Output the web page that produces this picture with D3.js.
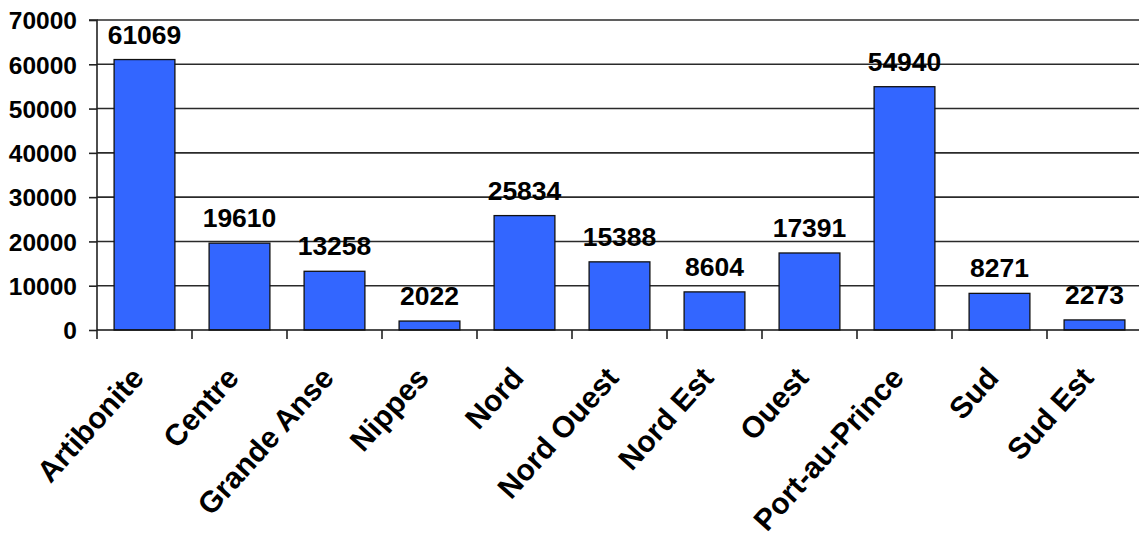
<!DOCTYPE html>
<html>
<head>
<meta charset="utf-8">
<script src="https://cdn.jsdelivr.net/npm/d3@7"></script>
<style>
  html, body { margin: 0; padding: 0; background: #fff; }
  svg { display: block; }
  text { font-family: "Liberation Sans", Arial, sans-serif; font-weight: bold; fill: #000; }
</style>
</head>
<body>
<svg id="chart" width="1139" height="540"></svg>
<script>
const categories = ["Artibonite", "Centre", "Grande Anse", "Nippes", "Nord", "Nord Ouest", "Nord Est", "Ouest", "Port-au-Prince", "Sud", "Sud Est"];
const values = [61069, 19610, 13258, 2022, 25834, 15388, 8604, 17391, 54940, 8271, 2273];
const yTicks = [0, 10000, 20000, 30000, 40000, 50000, 60000, 70000];

const svg = d3.select("#chart");
const plotLeft = 97, plotRight = 1142, plotTop = 20, plotBottom = 330;

const x = d3.scaleBand().domain(categories).range([plotLeft, plotRight]).paddingInner(0.36).paddingOuter(0.18);
const y = d3.scaleLinear().domain([0, 70000]).range([plotBottom, plotTop]);

// gridlines
svg.append("g").selectAll("line").data(yTicks.filter(d => d > 0)).join("line")
  .attr("x1", plotLeft).attr("x2", 1139)
  .attr("y1", d => y(d)).attr("y2", d => y(d))
  .attr("stroke", "#2a2a2a").attr("stroke-width", 1.6);

// bars
svg.append("g").selectAll("rect").data(values).join("rect")
  .attr("x", (d, i) => x(categories[i]))
  .attr("width", x.bandwidth())
  .attr("y", d => y(d))
  .attr("height", d => y(0) - y(d))
  .attr("fill", "#3366FF")
  .attr("stroke", "#111").attr("stroke-width", 1.3);

// y axis
const yAxis = d3.axisLeft(y).tickValues(yTicks).tickSize(8).tickPadding(12).tickFormat(d3.format("d"));
const gy = svg.append("g").attr("transform", `translate(${plotLeft},0)`).call(yAxis);
gy.select(".domain").attr("stroke", "#222").attr("stroke-width", 1.6).attr("d", `M-8,${plotTop}H0V${plotBottom}`);
gy.selectAll(".tick line").attr("stroke", "#222").attr("stroke-width", 1.6);
gy.selectAll(".tick text").style("font-size", "24.5px").style("font-family", "'Liberation Sans', Arial, sans-serif").style("font-weight", "bold").attr("fill", "#000").attr("dy", "0.36em");

// x axis line
svg.append("line").attr("x1", plotLeft).attr("x2", 1139).attr("y1", plotBottom).attr("y2", plotBottom)
  .attr("stroke", "#111").attr("stroke-width", 1.7);
// x tick marks at category boundaries
const bounds = d3.range(categories.length + 1).map(i => plotLeft + i * x.step());
svg.append("g").selectAll("line").data(bounds).join("line")
  .attr("x1", d => d).attr("x2", d => d)
  .attr("y1", plotBottom).attr("y2", plotBottom + 9)
  .attr("stroke", "#222").attr("stroke-width", 1.6);

// value labels
svg.append("g").selectAll("text").data(values).join("text")
  .attr("x", (d, i) => x(categories[i]) + x.bandwidth() / 2)
  .attr("y", d => y(d) - 16)
  .attr("text-anchor", "middle")
  .style("font-size", "26.5px")
  .text(d => d);

// category labels
svg.append("g").selectAll("text").data(categories).join("text")
  .attr("transform", d => `translate(${x(d) + x.bandwidth() / 2 - 7},372) rotate(-48)`)
  .attr("text-anchor", "end")
  .attr("dy", "0.35em")
  .style("font-size", "30px")
  .text(d => d);
</script>
</body>
</html>
